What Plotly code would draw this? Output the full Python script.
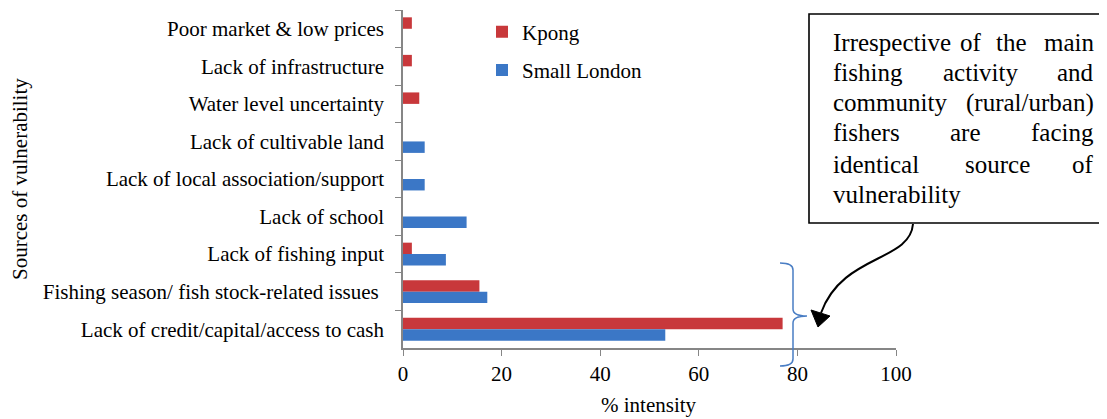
import plotly.graph_objects as go

# ---- data (top to bottom, as shown) ----
categories = [
    "Poor market & low prices",
    "Lack of infrastructure",
    "Water level uncertainty",
    "Lack of cultivable land",
    "Lack of local association/support",
    "Lack of school",
    "Lack of fishing input",
    "Fishing season/ fish stock-related issues ",
    "Lack of credit/capital/access to cash",
]
kpong = [1.8, 1.8, 3.3, 0, 0, 0, 1.8, 15.5, 77.0]
small_london = [0, 0, 0, 4.4, 4.4, 12.9, 8.7, 17.1, 53.2]
x_ticks = [0, 20, 40, 60, 80, 100]

FONT = "Liberation Serif"
OFF = 8  # default page body margin
W, H = 1107 - OFF, 419 - OFF
L, T = 403 - OFF, 10 - OFF
PW, PH = 493, 338
R, B = W - L - PW, H - T - PH


def px(x):  # page pixel -> paper
    return (x - 403) / PW


def py(y):
    return (348 - y) / PH


def P(x, y):
    return f"{px(x):.5f},{py(y):.5f}"


fig = go.Figure()
fig.add_trace(go.Bar(y=categories, x=kpong, orientation="h", name="Kpong",
                     marker=dict(color="#C8383B", line=dict(width=0)), legendgroup="a"))
fig.add_trace(go.Bar(y=categories, x=small_london, orientation="h", name="Small London",
                     marker=dict(color="#3B77C6", line=dict(width=0)), legendgroup="b"))

shapes = []
shapes.append(dict(type="rect", xref="paper", yref="paper",
                   x0=px(809), x1=px(1112), y0=py(223), y1=py(14),
                   line=dict(color="black", width=1.6), fillcolor="white"))
brace = (f"M{P(780,263)} Q{P(793,263)} {P(793,270)} L{P(793,309)} "
         f"Q{P(793,316)} {P(807,316)} Q{P(793,316)} {P(793,323)} "
         f"L{P(793,359)} Q{P(793,366)} {P(780,366)}")
shapes.append(dict(type="path", xref="paper", yref="paper", path=brace,
                   line=dict(color="#4A7EC4", width=1.5)))
arrow = f"M{P(913,224)} C{P(910,262)} {P(842,254)} {P(821,313)}"
shapes.append(dict(type="path", xref="paper", yref="paper", path=arrow,
                   line=dict(color="black", width=2)))
head = f"M{P(811,310)} L{P(830,316)} L{P(818,327)} Z"
shapes.append(dict(type="path", xref="paper", yref="paper", path=head,
                   line=dict(color="black", width=1), fillcolor="black"))

annotations = []
annotations.append(dict(xref="paper", yref="paper", x=px(20), y=py(179), text="Sources of vulnerability",
                        textangle=-90, showarrow=False, font=dict(family=FONT, size=21, color="black"),
                        xanchor="center", yanchor="middle"))
annotations.append(dict(xref="paper", yref="paper", x=px(649), y=py(405), text="% intensity",
                        showarrow=False, font=dict(family=FONT, size=21, color="black"),
                        xanchor="center", yanchor="middle"))

box_lines = [
    (42, [("Irrespective", 831, "left"), ("of", 971, "center"), ("the", 1011, "center"), ("main", 1096, "right")]),
    (72, [("fishing", 831, "left"), ("activity", 980, "center"), ("and", 1096, "right")]),
    (103, [("community", 831, "left"), ("(rural/urban)", 1096, "right")]),
    (133, [("fishers", 831, "left"), ("are", 965, "center"), ("facing", 1096, "right")]),
    (164, [("identical", 831, "left"), ("source", 997, "center"), ("of", 1096, "right")]),
    (194, [("vulnerability", 831, "left")]),
]
for yy, words in box_lines:
    for w, xx, anc in words:
        annotations.append(dict(xref="paper", yref="paper", x=px(xx), y=py(yy), text=w,
                                showarrow=False, xanchor=anc, yanchor="middle",
                                font=dict(family=FONT, size=25, color="black")))

fig.update_layout(
    width=W, height=H,
    margin=dict(l=L, r=R, t=T, b=B, autoexpand=False),
    paper_bgcolor="white", plot_bgcolor="white",
    barmode="group", bargap=0.39, bargroupgap=0,
    font=dict(family=FONT, size=21, color="black"),
    showlegend=True,
    legend=dict(x=px(482), y=py(11.5), xanchor="left", yanchor="top",
                traceorder="grouped", tracegroupgap=8,
                font=dict(family=FONT, size=21, color="black"),
                bgcolor="rgba(0,0,0,0)", itemwidth=30),
    shapes=shapes,
    annotations=annotations,
)
fig.update_xaxes(range=[0, 100], tickvals=x_ticks, ticks="outside", ticklen=6,
                 tickcolor="#868686", showline=True, linecolor="#868686", linewidth=1.5,
                 showgrid=False, zeroline=False, ticklabelstandoff=0,
                 tickfont=dict(family=FONT, size=21, color="black"), automargin=False)
fig.update_yaxes(type="category", categoryorder="array", categoryarray=categories,
                 autorange="reversed",
                 ticks="outside", tickson="boundaries", ticklen=6, tickcolor="#868686",
                 showline=True, linecolor="#868686", linewidth=1.5, showgrid=False,
                 ticklabelstandoff=13, tickfont=dict(family=FONT, size=21, color="black"),
                 automargin=False)

fig.write_html("out.html")
